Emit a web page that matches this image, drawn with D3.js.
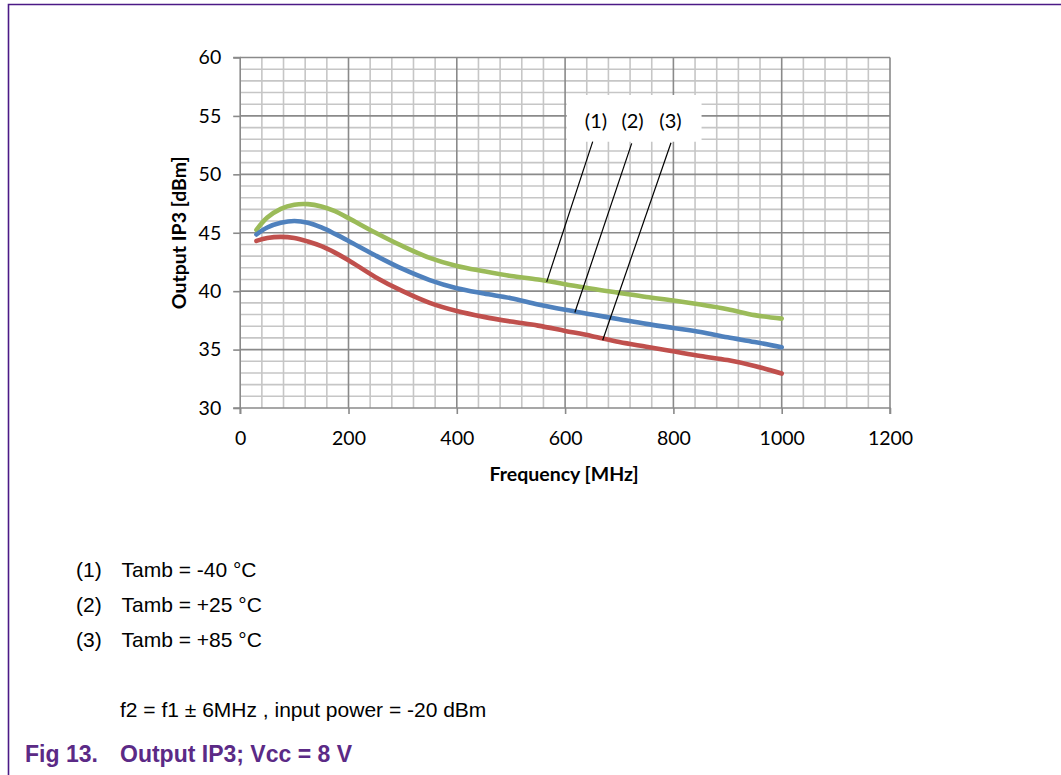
<!DOCTYPE html>
<html><head><meta charset="utf-8">
<script src="https://cdn.jsdelivr.net/npm/d3@7"></script>
<style>body{margin:0;background:#fff}svg{display:block}</style>
</head><body><svg id="c" width="1061" height="775"></svg>
<script>
// ---- data ----
const freqs        = [30, 50, 75, 100, 125, 150, 175, 200, 250, 300, 350, 400, 450, 500, 550, 600, 650, 700, 750, 800, 850, 900, 950, 1000];
const ip3Minus40   = [45.25, 46.3, 47.05, 47.4, 47.45, 47.25, 46.85, 46.25, 45.0, 43.85, 42.85, 42.15, 41.7, 41.3, 41.0, 40.6, 40.2, 39.85, 39.5, 39.2, 38.85, 38.45, 37.95, 37.65];
const ip3Plus25    = [44.85, 45.45, 45.85, 46.0, 45.85, 45.45, 44.9, 44.3, 43.05, 41.9, 40.95, 40.25, 39.8, 39.4, 38.85, 38.4, 38.0, 37.6, 37.2, 36.85, 36.5, 36.05, 35.65, 35.2];
const ip3Plus85    = [44.3, 44.55, 44.65, 44.55, 44.25, 43.85, 43.3, 42.65, 41.2, 40.0, 39.0, 38.3, 37.8, 37.4, 37.05, 36.6, 36.15, 35.65, 35.25, 34.85, 34.45, 34.1, 33.6, 32.95];
const seriesColors = ["#9BBB59", "#4F81BD", "#C0504D"];
const xTicks = [0, 200, 400, 600, 800, 1000, 1200];
const yTicks = [30, 35, 40, 45, 50, 55, 60];
const xMinorStep = 40, yMinorStep = 1;
const curveLabels = ["(1)", "(2)", "(3)"];
const labelFreqs  = [657, 724.5, 794.6];
const labelLevel  = 53.94;
const leaderFrom  = [[566, 40.8], [618, 38.17], [669.4, 35.8]];
const leaderTo    = [[651, 52.8], [723, 52.65], [795.6, 52.7]];
const labelBox    = {f0: 603, f1: 852, v0: 52.79, v1: 56.79};
const xTitle = "Frequency [MHz]";
const yTitle = "Output IP3 [dBm]";
const legendNums  = ["(1)", "(2)", "(3)"];
const legendTexts = ["Tamb = -40 °C", "Tamb = +25 °C", "Tamb = +85 °C"];
const noteText  = "f2 = f1 ± 6MHz , input power = -20 dBm";
const figNum    = "Fig 13.";
const figTitle  = "Output IP3; Vcc = 8 V";

// ---- drawing ----
const svg = d3.select("#c");
const W = 1061, H = 775;
const x = d3.scaleLinear().domain([0, 1200]).range([240.2, 890]);
const y = d3.scaleLinear().domain([30, 60]).range([408, 57.5]);
const chartFont = "Lato, 'Open Sans', sans-serif";

// frame
svg.append("path").attr("d", `M8.5,${H} V4.5 H${W}`).attr("fill", "none")
  .attr("stroke", "#4b1a86").attr("stroke-width", 1.6);

const g = svg.append("g");
// minor grid
const xMinor = d3.range(0, 1200 + 1, xMinorStep).filter(v => v % 200 !== 0);
const yMinor = d3.range(30, 61, yMinorStep).filter(v => v % 5 !== 0);
g.selectAll(".xm").data(xMinor).join("line")
  .attr("x1", d => x(d)).attr("x2", d => x(d)).attr("y1", y(30)).attr("y2", y(60))
  .attr("stroke", "#c6c6c6").attr("stroke-width", 1.6);
g.selectAll(".ym").data(yMinor).join("line")
  .attr("x1", x(0)).attr("x2", x(1200)).attr("y1", d => y(d)).attr("y2", d => y(d))
  .attr("stroke", "#c6c6c6").attr("stroke-width", 1.6);
// major grid
g.selectAll(".xM").data(xTicks.slice(1)).join("line")
  .attr("x1", d => x(d)).attr("x2", d => x(d)).attr("y1", y(30)).attr("y2", y(60))
  .attr("stroke", "#8a8a8a").attr("stroke-width", 1.6);
g.selectAll(".yM").data(yTicks.slice(1)).join("line")
  .attr("x1", x(0)).attr("x2", x(1200)).attr("y1", d => y(d)).attr("y2", d => y(d))
  .attr("stroke", "#8a8a8a").attr("stroke-width", 1.6);

// axes
const xAxis = d3.axisBottom(x).tickValues(xTicks).tickSize(6).tickPadding(17).tickFormat(d3.format("d"));
const yAxis = d3.axisLeft(y).tickValues(yTicks).tickSize(7).tickPadding(12).tickFormat(d3.format("d"));
const gx = svg.append("g").attr("transform", `translate(0,${y(30)})`).call(xAxis);
const gy = svg.append("g").attr("transform", `translate(${x(0)},0)`).call(yAxis);
[gx, gy].forEach(a => {
  a.select(".domain").attr("stroke", "#8a8a8a").attr("stroke-width", 1.6);
  a.selectAll(".tick line").attr("stroke", "#8a8a8a").attr("stroke-width", 1.6);
  a.selectAll(".tick text").attr("fill", "#000").style("font-family", chartFont).style("font-size", "19.5px");
});
gy.select(".domain").attr("d", `M-7,${y(30)}H0V${y(60)}H-7`);
gx.select(".domain").attr("d", `M${x(0)},6V0H${x(1200)}V6`);

// series
const line = d3.line().x(d => x(d[0])).y(d => y(d[1])).curve(d3.curveCatmullRom.alpha(0.5));
[ip3Minus40, ip3Plus25, ip3Plus85].forEach((vals, i) => {
  svg.append("path").datum(freqs.map((f, k) => [f, vals[k]]))
    .attr("d", line).attr("fill", "none").attr("stroke", seriesColors[i])
    .attr("stroke-width", 4.6).attr("stroke-linecap", "round").attr("stroke-linejoin", "round");
});

// label box and leaders
svg.append("rect").attr("x", x(labelBox.f0)).attr("y", y(labelBox.v1))
  .attr("width", x(labelBox.f1) - x(labelBox.f0)).attr("height", y(labelBox.v0) - y(labelBox.v1))
  .attr("fill", "#fff");
leaderFrom.forEach((p, i) => {
  svg.append("line").attr("x1", x(p[0])).attr("y1", y(p[1]))
    .attr("x2", x(leaderTo[i][0])).attr("y2", y(leaderTo[i][1]))
    .attr("stroke", "#000").attr("stroke-width", 1.2);
});
svg.selectAll(".cl").data(curveLabels).join("text")
  .attr("x", (d, i) => x(labelFreqs[i])).attr("y", y(labelLevel))
  .attr("text-anchor", "middle").style("font-family", chartFont).style("font-size", "20px")
  .text(d => d);

// axis titles
svg.append("text").attr("x", (x(0) + x(1200)) / 2 - 1).attr("y", 473)
  .attr("text-anchor", "middle").attr("dominant-baseline", "central")
  .style("font-family", chartFont).style("font-weight", "bold")
  .style("font-size", "19.5px").text(xTitle);
svg.append("text").attr("transform", `translate(178,${(y(30) + y(60)) / 2}) rotate(-90)`)
  .attr("text-anchor", "middle").attr("dominant-baseline", "central")
  .style("font-family", chartFont).style("font-weight", "bold")
  .style("font-size", "19.5px").text(yTitle);

// notes
const noteFont = "'Liberation Sans', Arial, sans-serif";
legendNums.forEach((n, i) => {
  svg.append("text").attr("x", 76).attr("y", 576.5 + i * 35).style("font-family", noteFont)
    .style("font-size", "21px").text(n);
  svg.append("text").attr("x", 121.5).attr("y", 576.5 + i * 35).style("font-family", noteFont)
    .style("font-size", "21px").text(legendTexts[i]);
});
svg.append("text").attr("x", 120).attr("y", 716.5).style("font-family", noteFont)
  .style("font-size", "21px").text(noteText);
svg.append("text").attr("x", 25).attr("y", 762).style("font-family", noteFont)
  .style("font-size", "23px").style("font-weight", "bold").attr("fill", "#5b2a86").text(figNum);
svg.append("text").attr("x", 120).attr("y", 762).style("font-family", noteFont)
  .style("font-size", "23px").style("font-weight", "bold").attr("fill", "#5b2a86").text(figTitle);
</script></body></html>
